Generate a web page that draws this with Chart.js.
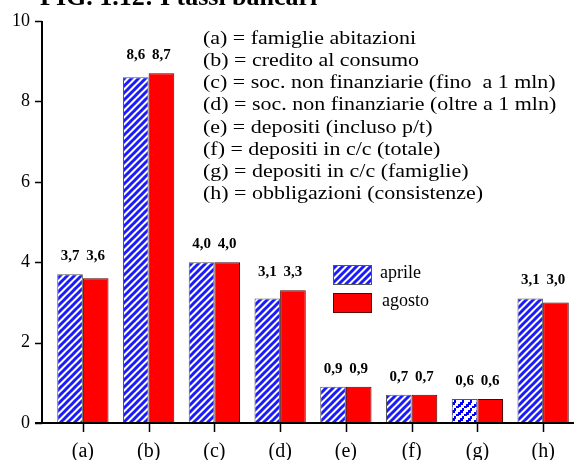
<!DOCTYPE html>
<html>
<head>
<meta charset="utf-8">
<script src="https://cdn.jsdelivr.net/npm/chart.js@4.4.1/dist/chart.umd.min.js"></script>
<style>
  html, body { margin: 0; padding: 0; background: #fff; }
  #wrap { width: 582px; height: 460px; position: relative; }
</style>
</head>
<body>
<div id="wrap"><canvas id="chart" width="582" height="460"></canvas></div>
<script>
// dati
const categories = ['(a)', '(b)', '(c)', '(d)', '(e)', '(f)', '(g)', '(h)'];
const aprile = [3.7, 8.6, 4.0, 3.1, 0.9, 0.7, 0.6, 3.1];
const agosto = [3.6, 8.7, 4.0, 3.3, 0.9, 0.7, 0.6, 3.0];
const seriesNames = ['aprile', 'agosto'];
const yTicks = [0, 2, 4, 6, 8, 10];
const titleText = 'FIG. 1.12: I tassi bancari';
const definitions = [
  '(a) = famiglie abitazioni',
  '(b) = credito al consumo',
  '(c) = soc. non finanziarie (fino  a 1 mln)',
  '(d) = soc. non finanziarie (oltre a 1 mln)',
  '(e) = depositi (incluso p/t)',
  '(f) = depositi in c/c (totale)',
  '(g) = depositi in c/c (famiglie)',
  '(h) = obbligazioni (consistenze)'
];

const SERIF = "'Liberation Serif', 'DejaVu Serif', serif";

const canvas = document.getElementById('chart');
const ctx = canvas.getContext('2d');

// tratteggio diagonale blu/bianco
function stripePattern() {
  const t = document.createElement('canvas');
  t.width = 7; t.height = 7;
  const c = t.getContext('2d');
  c.fillStyle = '#fff';
  c.fillRect(0, 0, 7, 7);
  c.strokeStyle = '#1a1aff';
  c.lineWidth = 3;
  for (const o of [-7, 0, 7]) {
    c.beginPath();
    c.moveTo(o - 1, 8);
    c.lineTo(o + 8, -1);
    c.stroke();
  }
  return ctx.createPattern(t, 'repeat');
}

// motivo a scalini per la barra (g)
function blockPattern() {
  const t = document.createElement('canvas');
  t.width = 8; t.height = 8;
  const c = t.getContext('2d');
  c.fillStyle = '#fff';
  c.fillRect(0, 0, 8, 8);
  c.fillStyle = '#0000ff';
  for (let i = 0; i < 8; i += 2) {
    c.fillRect(i, 6 - i, 3, 3);
    c.fillRect(i - 8, 14 - i, 3, 3);
    c.fillRect(i + 8, -2 - i, 3, 3);
  }
  return ctx.createPattern(t, 'repeat');
}

const patA = stripePattern();
const patG = blockPattern();

const fmt = v => v.toFixed(1).replace('.', ',');

// assi disegnati a mano (asse y staccato dalle barre)
const axesPlugin = {
  id: 'axesLines',
  afterDatasetsDraw(chart) {
    const { ctx, scales: { x, y } } = chart;
    const axisX = chart.chartArea.left - 8;
    const y0 = y.getPixelForValue(0);
    ctx.save();
    ctx.strokeStyle = '#000';
    ctx.lineWidth = 2;
    ctx.beginPath();
    ctx.moveTo(axisX, y.getPixelForValue(10));
    ctx.lineTo(axisX, y0);
    ctx.moveTo(axisX - 7, y0);
    ctx.lineTo(chart.chartArea.right - 2, y0);
    ctx.stroke();
    ctx.lineWidth = 1.5;
    ctx.beginPath();
    yTicks.forEach(v => {
      const py = Math.round(y.getPixelForValue(v)) + 0.5;
      ctx.moveTo(axisX - 7, py);
      ctx.lineTo(axisX, py);
    });
    categories.forEach((c, i) => {
      const px = Math.round(x.getPixelForValue(i)) + 0.5;
      ctx.moveTo(px, y0);
      ctx.lineTo(px, y0 + 9);
    });
    ctx.stroke();
    ctx.restore();
  }
};

// etichette dei valori sopra le barre
const valuesPlugin = {
  id: 'valueLabels',
  afterDatasetsDraw(chart) {
    const { ctx } = chart;
    const m0 = chart.getDatasetMeta(0).data;
    const m1 = chart.getDatasetMeta(1).data;
    ctx.save();
    ctx.font = 'bold 15px ' + SERIF;
    ctx.fillStyle = '#000';
    ctx.textAlign = 'center';
    ctx.textBaseline = 'middle';
    categories.forEach((c, i) => {
      const top = Math.min(m0[i].y, m1[i].y) - 18;
      ctx.fillText(fmt(aprile[i]), m0[i].x, top);
      ctx.fillText(fmt(agosto[i]), m1[i].x, top);
    });
    ctx.restore();
  }
};

// titolo, legenda e note
const textPlugin = {
  id: 'texts',
  afterDraw(chart) {
    const { ctx } = chart;
    ctx.save();
    ctx.fillStyle = '#000';
    ctx.textAlign = 'left';
    ctx.textBaseline = 'alphabetic';
    ctx.font = 'bold 26px ' + SERIF;
    ctx.fillText(titleText, 40, 5);

    ctx.font = '18px ' + SERIF;
    ctx.textBaseline = 'middle';
    definitions.forEach((d, i) => {
      ctx.save();
      ctx.translate(203, 39 + i * 22.2);
      ctx.scale(1.22, 1);
      ctx.fillText(d, 0, 0);
      ctx.restore();
    });

    const boxes = [patA, '#ff0000'];
    const borders = ['#555', '#600'];
    seriesNames.forEach((n, i) => {
      const by = 265 + i * 28;
      ctx.fillStyle = boxes[i];
      ctx.fillRect(333, by, 39, 20);
      ctx.strokeStyle = borders[i];
      ctx.lineWidth = 1;
      ctx.strokeRect(333.5, by + 0.5, 38, 19);
      ctx.fillStyle = '#000';
      ctx.font = '18px ' + SERIF;
      ctx.fillText(n, 380 + i * 2, by + 8);
    });
    ctx.restore();
  }
};

new Chart(ctx, {
  type: 'bar',
  data: {
    labels: categories,
    datasets: [
      {
        label: seriesNames[0],
        data: aprile,
        backgroundColor: c => (c.dataIndex === 6 ? patG : patA),
        borderColor: '#555',
        borderWidth: 1
      },
      {
        label: seriesNames[1],
        data: agosto,
        backgroundColor: '#ff0000',
        borderColor: '#500',
        borderWidth: 1
      }
    ]
  },
  options: {
    responsive: false,
    animation: false,
    devicePixelRatio: 1,
    layout: { padding: { top: 21, right: 6, left: 0, bottom: 0 } },
    datasets: {
      bar: { categoryPercentage: 0.78, barPercentage: 1 }
    },
    plugins: {
      legend: { display: false },
      tooltip: { enabled: false },
      title: { display: false }
    },
    scales: {
      x: {
        grid: { display: false, drawTicks: false },
        border: { display: false },
        ticks: {
          color: '#000',
          font: { family: SERIF, size: 20 },
          padding: 17,
          maxRotation: 0
        },
        afterFit: s => { s.height = 37; }
      },
      y: {
        min: 0,
        max: 10,
        grid: { display: false, drawTicks: false },
        border: { display: false },
        ticks: {
          stepSize: 2,
          color: '#000',
          font: { family: SERIF, size: 18 },
          padding: 20
        },
        afterFit: s => {
          s.width = 50;
          s.paddingTop = 0;
          s.paddingBottom = 0;
        }
      }
    }
  },
  plugins: [axesPlugin, valuesPlugin, textPlugin]
});
</script>
</body>
</html>
